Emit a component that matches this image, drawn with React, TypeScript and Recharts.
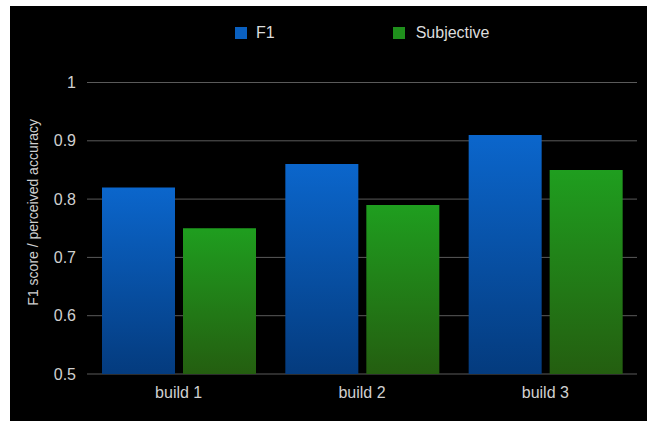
import React from "react";
import { BarChart, Bar, XAxis, YAxis, CartesianGrid, Legend } from "recharts";

const categories = ["build 1", "build 2", "build 3"];
const f1Values = [0.82, 0.86, 0.91];
const subjectiveValues = [0.75, 0.79, 0.85];
const yTicks = [0.5, 0.6, 0.7, 0.8, 0.9, 1];
const seriesNames = ["F1", "Subjective"];

const data = categories.map((c, i) => ({
  name: c,
  F1: f1Values[i],
  Subjective: subjectiveValues[i],
}));

const FONT = "'Liberation Sans', Arial, Helvetica, sans-serif";
const swatch: Record<string, string> = { F1: "#0a60c0", Subjective: "#1f8f1c" };

const LegendContent = () => (
  <div style={{ display: "flex", alignItems: "center", fontFamily: FONT, fontSize: 16, color: "#dcdcdc", lineHeight: "18px" }}>
    {seriesNames.map((n, i) => (
      <div key={n} style={{ display: "flex", alignItems: "center", marginRight: i === 0 ? 118 : 0 }}>
        <span style={{ display: "inline-block", width: 12, height: 12, background: swatch[n], marginRight: i === 0 ? 9 : 11 }} />
        <span>{n}</span>
      </div>
    ))}
  </div>
);

const YTitle = (props: any) => {
  const vb = props.viewBox || { x: 0, y: 0, width: 0, height: 0 };
  const x = vb.x + 23;
  const y = vb.y + vb.height / 2 - 16;
  return (
    <text
      x={x}
      y={y}
      transform={`rotate(-90, ${x}, ${y})`}
      textAnchor="middle"
      dominantBaseline="central"
      fill="#d0d0d0"
      fontSize={14}
      fontFamily={FONT}
    >
      F1 score / perceived accuracy
    </text>
  );
};

export default function App() {
  return (
    <div style={{ position: "absolute", left: 10, top: 6, width: 637, height: 415, background: "#000" }}>
      <BarChart
        width={637}
        height={415}
        data={data}
        margin={{ top: 76.5, right: 10, bottom: 17, left: 0 }}
        barSize={73}
        barGap={8}
      >
        <defs>
          <linearGradient id="gBlue" x1="0" y1="0" x2="0" y2="1">
            <stop offset="0%" stopColor="#0b66cc" />
            <stop offset="100%" stopColor="#043b7e" />
          </linearGradient>
          <linearGradient id="gGreen" x1="0" y1="0" x2="0" y2="1">
            <stop offset="0%" stopColor="#1f9e1f" />
            <stop offset="100%" stopColor="#245e10" />
          </linearGradient>
        </defs>
        <CartesianGrid horizontal vertical={false} stroke="#5a5a5a" strokeWidth={1} />
        <XAxis
          dataKey="name"
          axisLine={false}
          tickLine={false}
          tickSize={6}
          tickMargin={7}
          height={30}
          tick={{ fill: "#d0d0d0", fontSize: 16, fontFamily: FONT }}
        />
        <YAxis
          domain={[0.5, 1]}
          ticks={yTicks}
          axisLine={false}
          tickLine={false}
          tickSize={6}
          tickMargin={5}
          width={77}
          tick={{ fill: "#d0d0d0", fontSize: 16, fontFamily: FONT }}
          label={<YTitle />}
        />
        <Legend
          layout="horizontal"
          verticalAlign="middle"
          align="center"
          content={<LegendContent />}
          wrapperStyle={{ top: 18, left: 225, width: "auto" }}
        />
        <Bar dataKey="F1" fill="url(#gBlue)" isAnimationActive={false} />
        <Bar dataKey="Subjective" fill="url(#gGreen)" isAnimationActive={false} />
      </BarChart>
    </div>
  );
}
